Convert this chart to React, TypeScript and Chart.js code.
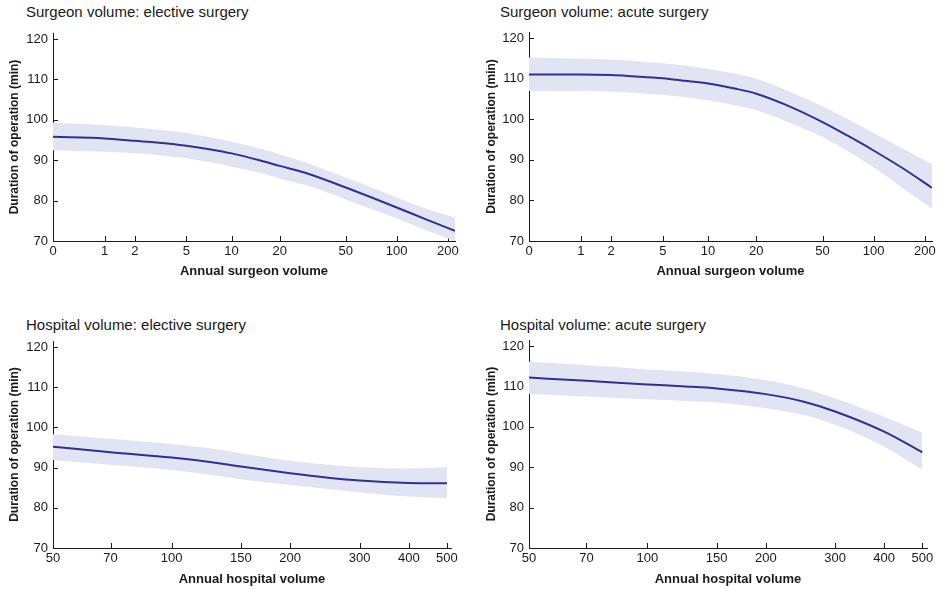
import React, { useEffect, useRef } from 'react';
import { Chart, registerables } from 'chart.js';

Chart.register(...registerables);

// ---------- data ----------
const surgeonVolume = [0, 1, 2, 3, 5, 7, 10, 15, 20, 30, 50, 70, 100, 150, 220];
const surgeonElectiveFit = [95.8, 95.4, 94.8, 94.4, 93.6, 92.8, 91.7, 90.0, 88.6, 86.6, 83.25, 80.9, 78.3, 75.3, 72.5];
const surgeonElectiveUpper = [99.3, 98.7, 98.1, 97.6, 96.8, 95.8, 94.6, 92.9, 91.5, 89.2, 85.7, 83.4, 80.8, 78.0, 75.8];
const surgeonElectiveLower = [92.5, 92.1, 91.7, 91.3, 90.5, 89.6, 88.4, 86.9, 85.5, 83.6, 80.3, 78.0, 75.6, 72.6, 70.0];

const surgeonAcuteFit = [111.05, 111.05, 110.9, 110.6, 110.1, 109.5, 108.8, 107.5, 106.3, 103.6, 99.3, 96.0, 92.3, 87.8, 83.1];
const surgeonAcuteUpper = [115.2, 114.9, 114.7, 114.4, 113.8, 113.3, 112.4, 111.2, 110.0, 107.3, 103.2, 100.1, 96.6, 92.7, 88.9];
const surgeonAcuteLower = [106.95, 106.95, 106.8, 106.5, 106.0, 105.5, 104.6, 103.4, 102.2, 99.6, 95.6, 92.2, 88.2, 82.9, 78.0];

const hospitalVolume = [50, 70, 100, 125, 150, 200, 250, 300, 400, 500];
const hospitalElectiveFit = [95.2, 93.8, 92.5, 91.4, 90.25, 88.6, 87.5, 86.8, 86.2, 86.1];
const hospitalElectiveUpper = [98.3, 97.2, 95.9, 94.8, 93.6, 91.7, 90.7, 90.1, 89.8, 90.1];
const hospitalElectiveLower = [91.9, 90.7, 89.4, 88.2, 87.1, 85.7, 84.7, 83.9, 82.8, 82.4];

const hospitalAcuteFit = [112.2, 111.4, 110.5, 110.0, 109.5, 108.1, 106.2, 103.8, 98.8, 93.7];
const hospitalAcuteUpper = [116.1, 115.3, 114.2, 113.7, 113.1, 111.6, 109.5, 107.1, 102.5, 98.6];
const hospitalAcuteLower = [108.1, 107.5, 106.8, 106.4, 106.0, 104.6, 102.9, 100.5, 95.1, 89.4];

const surgeonTicks = [0, 1, 2, 5, 10, 20, 50, 100, 200];
const hospitalTicks = [50, 70, 100, 150, 200, 300, 400, 500];
const durationTicks = [70, 80, 90, 100, 110, 120];

const panelTitles = [
  'Surgeon volume: elective surgery',
  'Surgeon volume: acute surgery',
  'Hospital volume: elective surgery',
  'Hospital volume: acute surgery',
];
const yTitle = 'Duration of operation (min)';
const surgeonXTitle = 'Annual surgeon volume';
const hospitalXTitle = 'Annual hospital volume';

// ---------- styling ----------
const FONT = '"Liberation Sans", Arial, Helvetica, sans-serif';
const LINE = '#2e3192';
const BAND = '#e3e4f3';
const AXIS = '#1a1a1a';

Chart.defaults.font.family = FONT;

const surgeonT = (v: number) => Math.log10(v + 1);

type Panel = {
  kind: 'surgeon' | 'hospital';
  title: string;
  xTitle: string;
  xs: number[];
  fit: number[];
  upper: number[];
  lower: number[];
  left: number;
  top: number;
  w: number;
  h: number;
  axisX: number;
  plotTop: number;
  plotBottom: number;
  plotRight: number;
  yTitleX: number;
  xTitleY: number;
  titleX: number;
  titleY: number;
  xMax: number;
};

const panels: Panel[] = [
  {
    kind: 'surgeon', title: panelTitles[0], xTitle: surgeonXTitle,
    xs: surgeonVolume, fit: surgeonElectiveFit, upper: surgeonElectiveUpper, lower: surgeonElectiveLower,
    left: 0, top: 0, w: 471, h: 295, axisX: 53, plotTop: 33, plotBottom: 241, plotRight: 455,
    yTitleX: 15, xTitleY: 271, titleX: 26, titleY: 3, xMax: 220,
  },
  {
    kind: 'surgeon', title: panelTitles[1], xTitle: surgeonXTitle,
    xs: surgeonVolume, fit: surgeonAcuteFit, upper: surgeonAcuteUpper, lower: surgeonAcuteLower,
    left: 470, top: 0, w: 471, h: 295, axisX: 59, plotTop: 32, plotBottom: 241, plotRight: 462,
    yTitleX: 22, xTitleY: 271, titleX: 500, titleY: 3, xMax: 220,
  },
  {
    kind: 'hospital', title: panelTitles[2], xTitle: hospitalXTitle,
    xs: hospitalVolume, fit: hospitalElectiveFit, upper: hospitalElectiveUpper, lower: hospitalElectiveLower,
    left: 0, top: 300, w: 471, h: 291, axisX: 53, plotTop: 41, plotBottom: 248, plotRight: 451,
    yTitleX: 15, xTitleY: 279, titleX: 26, titleY: 316, xMax: 512,
  },
  {
    kind: 'hospital', title: panelTitles[3], xTitle: hospitalXTitle,
    xs: hospitalVolume, fit: hospitalAcuteFit, upper: hospitalAcuteUpper, lower: hospitalAcuteLower,
    left: 470, top: 300, w: 471, h: 291, axisX: 59, plotTop: 40, plotBottom: 248, plotRight: 457,
    yTitleX: 22, xTitleY: 279, titleX: 500, titleY: 316, xMax: 514,
  },
];

const inwardTicks = {
  id: 'inwardTicks',
  beforeDatasetsDraw(chart: any) {
    const { ctx, chartArea, scales } = chart;
    ctx.save();
    ctx.strokeStyle = AXIS;
    ctx.lineWidth = 1;
    scales.x.ticks.forEach((t: any) => {
      const px = Math.round(scales.x.getPixelForValue(t.value)) + 0.5;
      ctx.beginPath();
      ctx.moveTo(px, chartArea.bottom);
      ctx.lineTo(px, chartArea.bottom - 5);
      ctx.stroke();
    });
    scales.y.ticks.forEach((t: any) => {
      const py = Math.round(scales.y.getPixelForValue(t.value)) + 0.5;
      ctx.beginPath();
      ctx.moveTo(chartArea.left, py);
      ctx.lineTo(chartArea.left + 5, py);
      ctx.stroke();
    });
    ctx.restore();
  },
};

function PanelChart({ p }: { p: Panel }) {
  const ref = useRef<HTMLCanvasElement>(null);
  useEffect(() => {
    const isS = p.kind === 'surgeon';
    const xv = (v: number) => (isS ? surgeonT(v) : v);
    const pts = (arr: number[]) => p.xs.map((v, i) => ({ x: xv(v), y: arr[i] }));
    const tickList = isS ? surgeonTicks : hospitalTicks;

    const chart = new Chart(ref.current!, {
      type: 'line',
      data: {
        datasets: [
          {
            data: pts(p.fit),
            borderColor: LINE,
            borderWidth: 2,
            pointRadius: 0,
            fill: false,
            cubicInterpolationMode: 'monotone',
          },
          {
            data: pts(p.upper),
            borderColor: 'rgba(0,0,0,0)',
            borderWidth: 0,
            pointRadius: 0,
            backgroundColor: BAND,
            fill: '+1',
            cubicInterpolationMode: 'monotone',
          },
          {
            data: pts(p.lower),
            borderColor: 'rgba(0,0,0,0)',
            borderWidth: 0,
            pointRadius: 0,
            fill: false,
            cubicInterpolationMode: 'monotone',
          },
        ],
      } as any,
      options: {
        animation: false,
        responsive: false,
        devicePixelRatio: 1,
        events: [],
        layout: { padding: { left: 0, top: p.plotTop, right: p.w - p.plotRight, bottom: 0 } },
        plugins: { legend: { display: false }, tooltip: { enabled: false }, title: { display: false } },
        scales: {
          x: {
            type: isS ? 'linear' : 'logarithmic',
            min: isS ? 0 : 50,
            max: xv(p.xMax),
            grid: { display: false, drawTicks: false },
            border: { display: true, color: AXIS, width: 1 },
            afterBuildTicks: (scale: any) => {
              scale.ticks = tickList.map((v) => ({ value: xv(v) }));
            },
            afterFit: (scale: any) => {
              scale.height = p.h - p.plotBottom;
            },
            ticks: {
              autoSkip: false,
              maxRotation: 0,
              padding: 3,
              color: AXIS,
              font: { size: 13 },
              callback: (_v: any, i: number) => String(tickList[i]),
            },
            title: {
              display: true,
              text: p.xTitle,
              color: AXIS,
              font: { size: 13, weight: 'bold' },
              padding: { top: 0, bottom: p.h - p.xTitleY - 7.8 },
            },
          },
          y: {
            type: 'linear',
            min: 70,
            max: 121.5,
            grid: { display: false, drawTicks: false },
            border: { display: true, color: AXIS, width: 1 },
            afterBuildTicks: (scale: any) => {
              scale.ticks = durationTicks.map((v) => ({ value: v }));
            },
            afterFit: (scale: any) => {
              scale.width = p.axisX;
            },
            ticks: {
              autoSkip: false,
              padding: 5,
              color: AXIS,
              font: { size: 13 },
              callback: (_v: any, i: number) => String(durationTicks[i]),
            },
            title: {
              display: true,
              text: yTitle,
              color: AXIS,
              font: { size: 12, weight: 'bold' },
              padding: { top: p.yTitleX - 7.2, bottom: 0 },
            },
          },
        },
      } as any,
      plugins: [inwardTicks],
    });
    return () => chart.destroy();
  }, []);

  return (
    <>
      <div
        style={{
          position: 'absolute',
          left: p.titleX,
          top: p.titleY,
          font: `15px ${FONT}`,
          lineHeight: '17px',
          color: '#1a1a1a',
          whiteSpace: 'nowrap',
        }}
      >
        {p.title}
      </div>
      <canvas
        ref={ref}
        width={p.w}
        height={p.h}
        style={{ position: 'absolute', left: p.left, top: p.top, width: p.w, height: p.h }}
      />
    </>
  );
}

export default function App() {
  return (
    <div style={{ position: 'absolute', left: 0, top: 0, width: 942, height: 591, background: '#fff', overflow: 'hidden' }}>
      {panels.map((p, i) => (
        <PanelChart key={i} p={p} />
      ))}
    </div>
  );
}
